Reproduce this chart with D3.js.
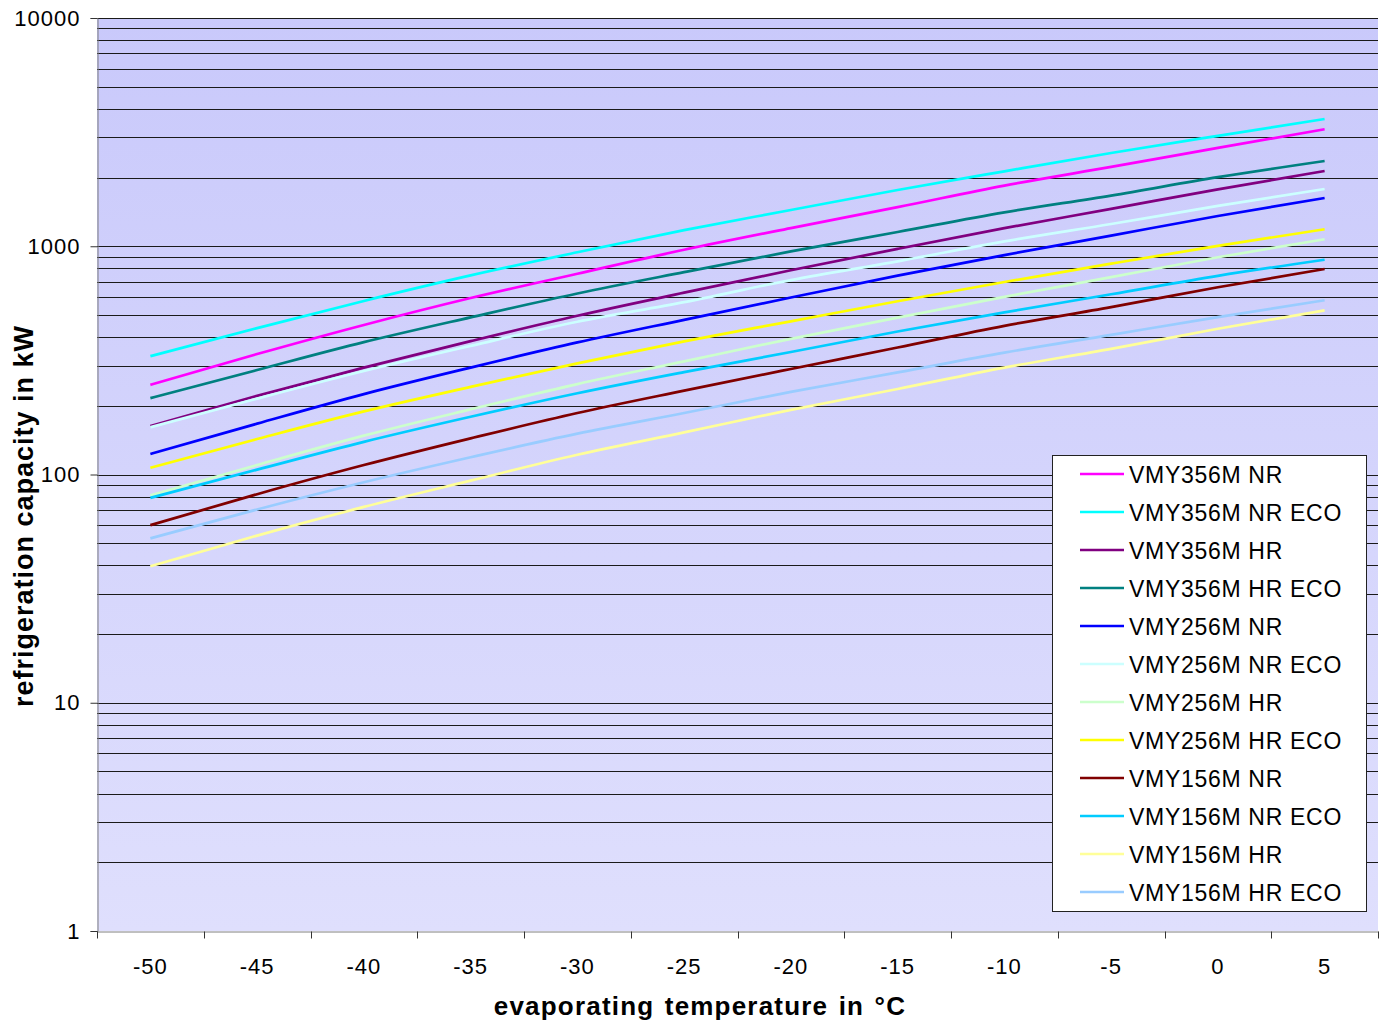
<!DOCTYPE html>
<html>
<meta charset="utf-8">
<script src="https://d3js.org/d3.v7.min.js"></script>
<style>
  body { margin: 0; background: #fff; }
  text { font-family: "Liberation Sans", Arial, sans-serif; }
</style>
<body>
<div id="chart"></div>
<script>

// evaporating temperature categories (°C)
var temperatures = [-50, -45, -40, -35, -30, -25, -20, -15, -10, -5, 0, 5];

// refrigeration capacity in kW, one array per unit
var vmy356NR     = [247, 337, 452, 593, 758, 965, 1201, 1483, 1844, 2227, 2697, 3254];
var vmy356NRECO  = [330, 438, 576, 745, 941, 1176, 1441, 1764, 2130, 2562, 3047, 3610];
var vmy356HR     = [163, 221, 294, 384, 496, 626, 785, 974, 1200, 1458, 1776, 2137];
var vmy356HRECO  = [216, 287, 380, 488, 621, 770, 949, 1155, 1407, 1667, 2007, 2363];
var vmy256NR     = [123, 167, 225, 294, 379, 476, 596, 744, 915, 1114, 1357, 1627];
var vmy256NRECO  = [161, 215, 284, 366, 467, 569, 711, 859, 1050, 1252, 1502, 1782];
var vmy256HR     = [81, 110, 148, 193, 249, 313, 393, 487, 600, 732, 895, 1073];
var vmy256HRECO  = [107, 143, 189, 242, 307, 383, 469, 574, 697, 839, 1004, 1187];
var vmy156NR     = [60, 82, 110, 144, 186, 233, 290, 360, 448, 541, 661, 795];
var vmy156NRECO  = [79, 105, 139, 179, 227, 281, 344, 423, 513, 616, 742, 873];
var vmy156HR     = [39.6, 54, 72.1, 94, 122, 153, 192, 237, 294, 355, 435, 524];
var vmy156HRECO  = [52.5, 70.3, 92.5, 119, 151, 186, 230, 280, 342, 409, 489, 580];

var seriesNames = ["VMY356M NR", "VMY356M NR ECO", "VMY356M HR", "VMY356M HR ECO",
                   "VMY256M NR", "VMY256M NR ECO", "VMY256M HR", "VMY256M HR ECO",
                   "VMY156M NR", "VMY156M NR ECO", "VMY156M HR", "VMY156M HR ECO"];
var seriesValues = [vmy356NR, vmy356NRECO, vmy356HR, vmy356HRECO,
                    vmy256NR, vmy256NRECO, vmy256HR, vmy256HRECO,
                    vmy156NR, vmy156NRECO, vmy156HR, vmy156HRECO];
var seriesColors = ["#ff00ff", "#00ffff", "#800080", "#008080",
                    "#0000ff", "#ccffff", "#ccffcc", "#ffff00",
                    "#800000", "#00ccff", "#ffff99", "#99ccff"];

// y axis labels (log scale decades)
var yTickValues = [1, 10, 100, 1000, 10000];

// plot area
var W = 1381, H = 1022;
var plotLeft = 97, plotRight = 1378, plotTop = 18, plotBottom = 931;

var svg = d3.select("#chart").append("svg")
    .attr("width", W)
    .attr("height", H);

var x = d3.scaleBand()
    .domain(temperatures)
    .range([plotLeft, plotRight])
    .padding(0);

var y = d3.scaleLog()
    .domain([1, 10000])
    .range([plotBottom, plotTop]);

// background gradient
var grad = svg.append("defs").append("linearGradient")
    .attr("id", "bg")
    .attr("x1", 0).attr("y1", 0)
    .attr("x2", 0).attr("y2", 1);
grad.append("stop").attr("offset", "0%").attr("stop-color", "#c9c9fb");
grad.append("stop").attr("offset", "100%").attr("stop-color", "#dfdffd");

svg.append("rect")
    .attr("x", plotLeft)
    .attr("y", plotTop)
    .attr("width", plotRight - plotLeft)
    .attr("height", plotBottom - plotTop)
    .attr("fill", "url(#bg)");

// horizontal grid lines at every 1..9 x decade
var gridValues = [];
for (var k = 0; k < 4; k++) {
  for (var m = 1; m < 10; m++) gridValues.push(m * Math.pow(10, k));
}
gridValues.push(10000);

svg.append("g")
    .selectAll("line")
    .data(gridValues.filter(function(d) { return d > 1; }))
    .enter().append("line")
    .attr("x1", plotLeft)
    .attr("x2", plotRight)
    .attr("y1", function(d) { return Math.round(y(d)) + 0.5; })
    .attr("y2", function(d) { return Math.round(y(d)) + 0.5; })
    .attr("stroke", "#1a1a1a")
    .attr("stroke-width", 1);

// y axis
var yAxis = svg.append("g")
    .attr("transform", "translate(" + (plotLeft + 0.5) + ",0)")
    .call(d3.axisLeft(y)
      .tickValues(yTickValues)
      .tickFormat(d3.format("d"))
      .tickSize(7)
      .tickPadding(10));
yAxis.select(".domain").attr("stroke", "#808080");
yAxis.selectAll(".tick line").attr("stroke", "#333");
yAxis.selectAll("text")
    .style("font-size", "22px")
    .style("letter-spacing", "1px")
    .attr("fill", "#000");

// x axis: labels at category centres, ticks at category boundaries
var xAxis = svg.append("g")
    .attr("transform", "translate(0," + (plotBottom + 0.5) + ")")
    .call(d3.axisBottom(x).tickSize(0).tickPadding(27));
xAxis.select(".domain").attr("stroke", "#808080");
xAxis.selectAll("text")
    .style("font-size", "22px")
    .style("letter-spacing", "1px")
    .attr("fill", "#000");

var boundaries = temperatures.map(function(d) { return x(d); }).concat([plotRight]);
xAxis.selectAll(".bound")
    .data(boundaries)
    .enter().append("line")
    .attr("class", "bound")
    .attr("x1", function(d) { return Math.round(d) + 0.5; })
    .attr("x2", function(d) { return Math.round(d) + 0.5; })
    .attr("y1", 0)
    .attr("y2", 7)
    .attr("stroke", "#333");

// series lines
var line = d3.line()
    .x(function(d, i) { return x(temperatures[i]) + x.bandwidth() / 2; })
    .y(function(d) { return y(d); })
    .curve(d3.curveMonotoneX);

svg.append("g")
    .selectAll("path")
    .data(seriesValues)
    .enter().append("path")
    .attr("d", line)
    .attr("fill", "none")
    .attr("stroke", function(d, i) { return seriesColors[i]; })
    .attr("stroke-width", 2.7);

// axis titles
svg.append("text")
    .attr("x", 700)
    .attr("y", 1015)
    .attr("text-anchor", "middle")
    .style("font-size", "26px")
    .style("font-weight", "bold")
    .style("letter-spacing", "1.2px")
    .style("word-spacing", "2px")
    .text("evaporating temperature in °C");

svg.append("text")
    .attr("transform", "translate(33,516) rotate(-90)")
    .attr("text-anchor", "middle")
    .style("font-size", "27px")
    .style("font-weight", "bold")
    .style("letter-spacing", "1px")
    .text("refrigeration capacity in kW");

// legend
var legend = svg.append("g")
    .attr("transform", "translate(1052,455)");

legend.append("rect")
    .attr("x", 0.5)
    .attr("y", 0.5)
    .attr("width", 314)
    .attr("height", 456)
    .attr("fill", "#fff")
    .attr("stroke", "#222");

var item = legend.selectAll(".item")
    .data(seriesNames)
    .enter().append("g")
    .attr("class", "item")
    .attr("transform", function(d, i) { return "translate(0," + (19 + i * 38) + ")"; });

item.append("line")
    .attr("x1", 28)
    .attr("x2", 72)
    .attr("stroke", function(d, i) { return seriesColors[i]; })
    .attr("stroke-width", 2.5);

item.append("text")
    .attr("x", 77)
    .attr("y", 9)
    .style("font-size", "23px")
    .style("letter-spacing", "0.7px")
    .text(function(d) { return d; });

</script>
</body>
</html>
